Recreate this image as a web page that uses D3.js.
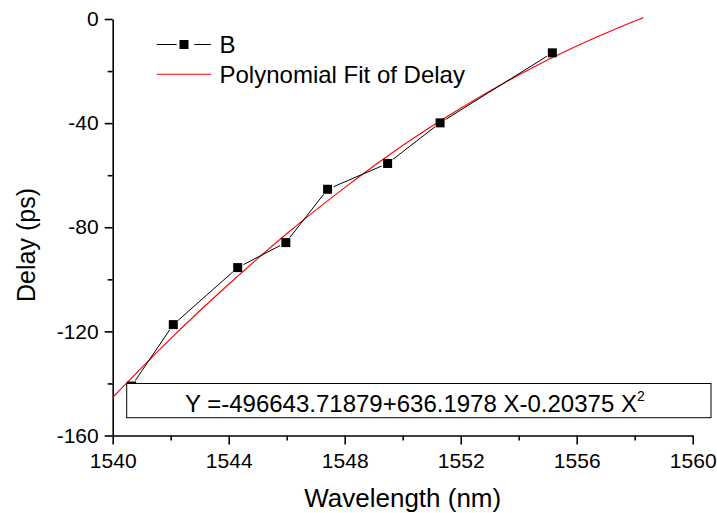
<!DOCTYPE html>
<html>
<head>
<meta charset="utf-8">
<script src="https://cdn.jsdelivr.net/npm/d3@7"></script>
<style>
  html, body { margin: 0; padding: 0; background: #fff; }
  svg { display: block; font-family: "Liberation Sans", Arial, Helvetica, sans-serif; }
</style>
</head>
<body>
<svg id="chart" width="717" height="513"></svg>
<script>
// ---- data ----
const wavelength = [1540.65, 1542.09, 1544.31, 1545.97, 1547.41, 1549.48, 1551.29, 1555.16];
const delay      = [-141.0, -117.4, -95.5, -85.9, -65.4, -55.5, -39.9, -13.0];

// polynomial fit curve
const fitX = [1540, 1542, 1544, 1546, 1548, 1550, 1552, 1554, 1556, 1558, 1558.2];
const fitY = [-145.4, -122.8, -101.9, -82.5, -64.8, -48.6, -34.3, -21.5, -10.4, -0.8, 0];

const xMajor = [1540, 1544, 1548, 1552, 1556, 1560];
const xMinor = [1542, 1546, 1550, 1554, 1558];
const yMajor = [0, -40, -80, -120, -160];
const yMinor = [-20, -60, -100, -140];

const seriesName = "B";
const fitName = "Polynomial Fit of Delay";
const xTitle = "Wavelength (nm)";
const yTitle = "Delay (ps)";
const equationText = "Y =-496643.71879+636.1978 X-0.20375 X";
const equationSup = "2";

// ---- drawing ----
const svg = d3.select("#chart");
const x = d3.scaleLinear().domain([1540, 1560]).range([112.7, 692.7]);
const y = d3.scaleLinear().domain([-160, 0]).range([435.5, 19]);

const axisColor = "#000";
const axisW = 1.6;
const fmt = d => String(d);

// x axis
const gx = svg.append("g").attr("transform", `translate(0,${y(-160)})`);
gx.call(d3.axisBottom(x).tickValues(xMajor).tickSize(9).tickSizeOuter(0).tickPadding(9).tickFormat(fmt));
const gxm = svg.append("g").attr("transform", `translate(0,${y(-160)})`);
gxm.call(d3.axisBottom(x).tickValues(xMinor).tickSize(5).tickSizeOuter(0).tickFormat(""));
gxm.select(".domain").remove();

// y axis
const gy = svg.append("g").attr("transform", `translate(${x(1540)},0)`);
gy.call(d3.axisLeft(y).tickValues(yMajor).tickSize(8).tickSizeOuter(0).tickPadding(6).tickFormat(fmt));
const gym = svg.append("g").attr("transform", `translate(${x(1540)},0)`);
gym.call(d3.axisLeft(y).tickValues(yMinor).tickSize(5).tickSizeOuter(0).tickFormat(""));
gym.select(".domain").remove();

svg.selectAll(".domain, .tick line").attr("stroke", axisColor).attr("stroke-width", axisW);
svg.selectAll(".tick text").attr("fill", "#000").style("font-size", "21px")
   .style("font-family", '"Liberation Sans", Arial, sans-serif');
gx.selectAll(".tick text").attr("dy", "0.71em");

// axis titles
svg.append("text").attr("x", (x(1540) + x(1560)) / 2).attr("y", 507)
  .attr("text-anchor", "middle").style("font-size", "26px").text(xTitle);
svg.append("text").attr("transform", "translate(35,245) rotate(-90)")
  .attr("text-anchor", "middle").style("font-size", "25px").text(yTitle);

// fit curve
const fitPts = fitX.map((v, i) => [x(v), y(fitY[i])]);
svg.append("path").datum(fitPts)
  .attr("d", d3.line().curve(d3.curveNatural))
  .attr("fill", "none").attr("stroke", "#ff0000").attr("stroke-width", 1.1);

// data line with gaps around markers
const pts = wavelength.map((v, i) => [x(v), y(delay[i])]);
const gap = 6.5;
const segs = [];
for (let i = 0; i < pts.length - 1; i++) {
  const [x1, y1] = pts[i], [x2, y2] = pts[i + 1];
  const L = Math.hypot(x2 - x1, y2 - y1);
  const ux = (x2 - x1) / L, uy = (y2 - y1) / L;
  segs.push([x1 + ux * gap, y1 + uy * gap, x2 - ux * gap, y2 - uy * gap]);
}
svg.append("g").selectAll("line").data(segs).join("line")
  .attr("x1", d => d[0]).attr("y1", d => d[1]).attr("x2", d => d[2]).attr("y2", d => d[3])
  .attr("stroke", "#000").attr("stroke-width", 1);

const ms = 9;
svg.append("g").selectAll("rect").data(pts).join("rect")
  .attr("x", d => d[0] - ms / 2).attr("y", d => d[1] - ms / 2)
  .attr("width", ms).attr("height", ms).attr("fill", "#000");

// legend
const lg = svg.append("g");
lg.append("line").attr("x1", 156.7).attr("x2", 176.7).attr("y1", 44.5).attr("y2", 44.5).attr("stroke", "#000").attr("stroke-width", 1);
lg.append("line").attr("x1", 194.3).attr("x2", 211).attr("y1", 44.5).attr("y2", 44.5).attr("stroke", "#000").attr("stroke-width", 1);
lg.append("rect").attr("x", 184 - ms / 2).attr("y", 44.5 - ms / 2).attr("width", ms).attr("height", ms).attr("fill", "#000");
lg.append("text").attr("x", 219.5).attr("y", 52.5).style("font-size", "24px").text(seriesName);
lg.append("line").attr("x1", 156.7).attr("x2", 211).attr("y1", 74.3).attr("y2", 74.3).attr("stroke", "#ff0000").attr("stroke-width", 1.1);
lg.append("text").attr("x", 219.5).attr("y", 83).style("font-size", "24px").text(fitName);

// equation box
const bx0 = 126.7, bx1 = 711, by0 = 383.5, by1 = 417.7;
svg.append("rect").attr("x", bx0).attr("y", by0).attr("width", bx1 - bx0).attr("height", by1 - by0)
  .attr("fill", "#fff").attr("stroke", "#000").attr("stroke-width", 1);
const eq = svg.append("text").attr("x", (bx0 + bx1) / 2 - 4).attr("y", 412.3)
  .attr("text-anchor", "middle").style("font-size", "24px");
eq.append("tspan").text(equationText);
eq.append("tspan").attr("dy", -11).style("font-size", "14px").text(equationSup);
</script>
</body>
</html>
